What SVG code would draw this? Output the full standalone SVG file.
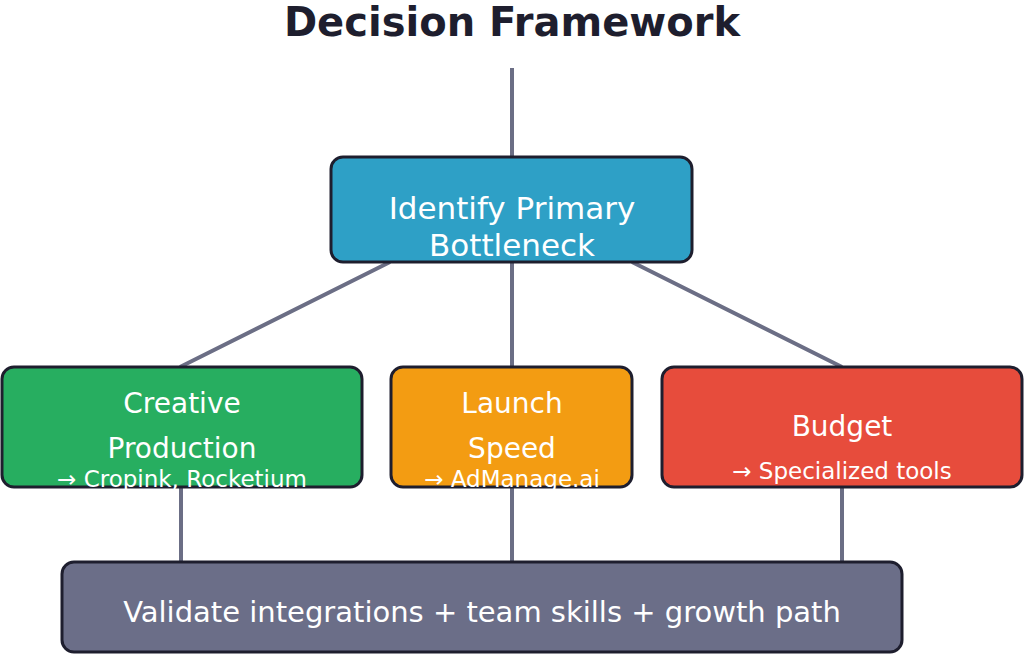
<svg xmlns="http://www.w3.org/2000/svg" width="1024" height="654" viewBox="0 0 1024 654">
<style>
.t{font-family:"DejaVu Sans",Verdana,sans-serif;fill:#fff;text-anchor:middle}
.b{stroke:#1e1e2e;stroke-width:3}
.c{stroke:#6b6e85;stroke-width:4;fill:none}
</style>
<rect width="1024" height="654" fill="#fff"/>
<text x="512" y="36" style="font-family:'DejaVu Sans',Verdana,sans-serif;font-weight:bold;font-size:40px;fill:#1e1e2e;text-anchor:middle">Decision Framework</text>
<g id="connectors">
<path class="c" d="M512 68V157M390 262L180 367M512 262V367M632 262L842 367M181 487V562M512 487V562M842 487V562"/>
</g>
<g id="top"><rect class="b" x="331" y="157" width="361" height="105" rx="12" fill="#2ea0c6"/>
<text class="t" x="512" y="219" font-size="31">Identify Primary</text><text class="t" x="512" y="256" font-size="31">Bottleneck</text></g>
<g id="creative"><rect class="b" x="2" y="367" width="360" height="120" rx="12" fill="#27ae60"/>
<text class="t" x="182" y="413" font-size="28">Creative</text><text class="t" x="182" y="458" font-size="28">Production</text><text class="t" x="182" y="487" font-size="23">→ Cropink, Rocketium</text></g>
<g id="launch"><rect class="b" x="391" y="367" width="241" height="120" rx="12" fill="#f39c12"/>
<text class="t" x="512" y="413" font-size="28">Launch</text><text class="t" x="512" y="458" font-size="28">Speed</text><text class="t" x="512" y="487" font-size="23">→ AdManage.ai</text></g>
<g id="budget"><rect class="b" x="662" y="367" width="360" height="120" rx="12" fill="#e74c3c"/>
<text class="t" x="842" y="436" font-size="28">Budget</text><text class="t" x="842" y="479" font-size="23">→ Specialized tools</text></g>
<g id="validate"><rect class="b" x="62" y="562" width="840" height="90" rx="12" fill="#6b6e88"/>
<text class="t" x="482" y="622" font-size="29">Validate integrations + team skills + growth path</text></g>
</svg>
